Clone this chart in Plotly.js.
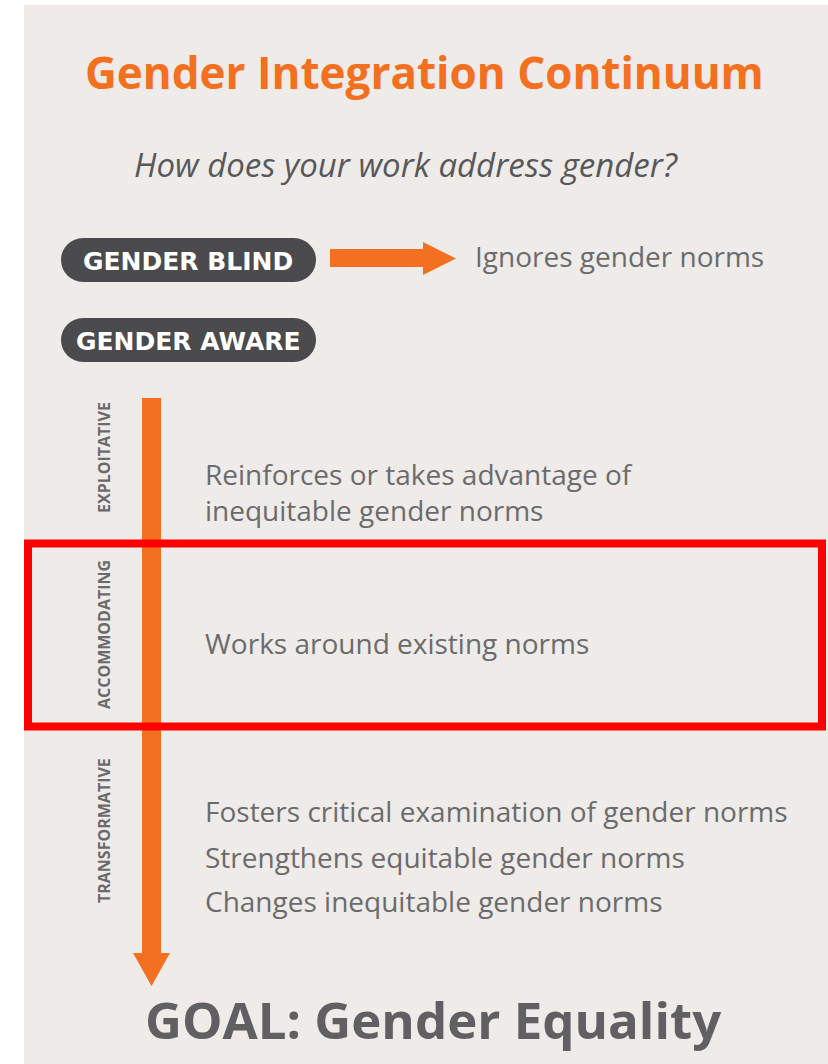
<!DOCTYPE html>
<html>
<head>
<meta charset="utf-8">
<script src="https://cdn.plot.ly/plotly-3.0.1.min.js"></script>
<style>html,body{margin:0;padding:0;background:#fff;}#chart{width:828px;height:1064px;}</style>
</head>
<body>
<div id="chart"></div>
<script>
// ---- content ----
const titleText = 'Gender Integration Continuum';
const subtitleText = 'How does your work address gender?';
const stageLabels = ['GENDER BLIND', 'GENDER AWARE'];
const blindDescription = 'Ignores gender norms';
const phaseLabels = ['EXPLOITATIVE', 'ACCOMMODATING', 'TRANSFORMATIVE'];
const phaseDescriptions = [
  ['Reinforces or takes advantage of<br>inequitable gender norms'],
  ['Works around existing norms'],
  ['Fosters critical examination of gender norms', 'Strengthens equitable gender norms', 'Changes inequitable gender norms']
];
const goalText = 'GOAL: Gender Equality';
const highlightedPhase = 'ACCOMMODATING';

// ---- style / layout ----
const W = 828, H = 1064;
const ORANGE = '#f37021';
const PILL = '#4b4b4d';
const TEXTGREY = '#6b6b6d';
const BG = '#eeebe8';
const FONT = 'Open Sans, Noto Sans, sans-serif';
const PILLFONT = 'DejaVu Sans, Open Sans, sans-serif';

const pillY = [[238, 282], [318, 362]];
const pillX = [61, 316];
const pillTextX = [188, 188];
const phaseY = [458, 635, 831];
const phaseBox = [[398, 540], [540, 730], [730, 955]];
const descLineY = [[492], [643], [811, 857, 901]];

const shapes = [];
const annotations = [];

// background panel
shapes.push({type:'rect', xref:'x', yref:'y', x0:24, x1:W, y0:5, y1:H, fillcolor:BG, line:{width:0}, layer:'below'});

// pills
stageLabels.forEach((lab, i) => {
  const [y0, y1] = pillY[i];
  const r = (y1 - y0) / 2;
  shapes.push({type:'rect', xref:'x', yref:'y', x0:pillX[0] + r, x1:pillX[1] - r, y0:y0, y1:y1, fillcolor:PILL, line:{width:0}});
  shapes.push({type:'circle', xref:'x', yref:'y', x0:pillX[0], x1:pillX[0] + 2*r, y0:y0, y1:y1, fillcolor:PILL, line:{width:0}});
  shapes.push({type:'circle', xref:'x', yref:'y', x0:pillX[1] - 2*r, x1:pillX[1], y0:y0, y1:y1, fillcolor:PILL, line:{width:0}});
  annotations.push({xref:'x', yref:'y', x:pillTextX[i], y:(y0 + y1)/2 + 1, text:'<b>' + lab + '</b>', showarrow:false,
    xanchor:'center', yanchor:'middle', font:{family:PILLFONT, size:25, color:'#ffffff'}});
});

// horizontal arrow
shapes.push({type:'path', xref:'x', yref:'y', path:'M330,249 L423,249 L423,242 L456,258.5 L423,275 L423,267 L330,267 Z', fillcolor:ORANGE, line:{width:0}});
annotations.push({xref:'x', yref:'y', x:473, y:256, text:blindDescription, showarrow:false, xanchor:'left', yanchor:'middle',
  font:{family:FONT, size:28, color:TEXTGREY}});

// vertical arrow
shapes.push({type:'path', xref:'x', yref:'y', path:'M142,398 L161,398 L161,953 L170,953 L151.5,986 L133,953 L142,953 Z', fillcolor:ORANGE, line:{width:0}});

// phases
phaseLabels.forEach((lab, i) => {
  annotations.push({xref:'x', yref:'y', x:104, y:phaseY[i], text:'<b>' + lab + '</b>', showarrow:false, textangle:-90,
    xanchor:'center', yanchor:'middle', font:{family:FONT, size:16, color:'#6a6a6c'}});
  phaseDescriptions[i].forEach((line, j) => {
    annotations.push({xref:'x', yref:'y', x:203, y:descLineY[i][j], text:line, showarrow:false, xanchor:'left', yanchor:'middle',
      align:'left', font:{family:FONT, size:28, color:TEXTGREY}});
  });
  if (lab === highlightedPhase) {
    shapes.push({type:'rect', xref:'x', yref:'y', x0:28, x1:822, y0:phaseBox[i][0] + 3.5, y1:phaseBox[i][1] - 3.5,
      fillcolor:'rgba(0,0,0,0)', line:{color:'#ff0000', width:8}});
  }
});

// title, subtitle, goal
annotations.push({xref:'x', yref:'y', x:424, y:72, text:'<b>' + titleText + '</b>', showarrow:false, xanchor:'center', yanchor:'middle',
  font:{family:FONT, size:44, color:ORANGE}});
annotations.push({xref:'x', yref:'y', x:406, y:164, text:'<i>' + subtitleText + '</i>', showarrow:false, xanchor:'center', yanchor:'middle',
  font:{family:FONT, size:33, color:'#58585a'}});
annotations.push({xref:'x', yref:'y', x:433, y:1019, text:'<b>' + goalText + '</b>', showarrow:false, xanchor:'center', yanchor:'middle',
  font:{family:FONT, size:51, color:'#606063'}});

const layout = {
  width: W, height: H,
  margin: {l:0, r:0, t:0, b:0, pad:0},
  paper_bgcolor: '#ffffff', plot_bgcolor: 'rgba(0,0,0,0)',
  xaxis: {range:[0, W], visible:false, fixedrange:true},
  yaxis: {range:[H, 0], visible:false, fixedrange:true},
  showlegend: false,
  shapes: shapes,
  annotations: annotations
};

Plotly.newPlot('chart', [], layout, {staticPlot:true, displayModeBar:false});
</script>
</body>
</html>
